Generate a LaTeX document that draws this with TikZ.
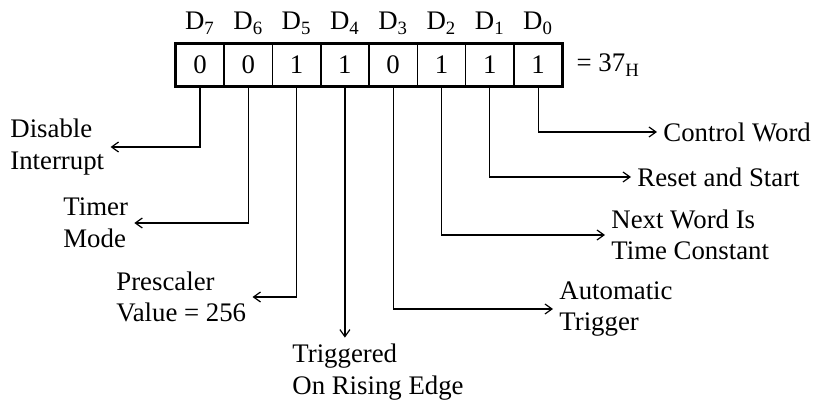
\documentclass[tikz,border=0pt]{standalone}
\usepackage{fontspec}
\setmainfont{Liberation Serif}
\usepackage{tikz}
\usetikzlibrary{arrows.meta, positioning}
\tikzstyle{bitnode}=[rectangle,draw,line width=0.8pt,inner sep=0pt,outer sep=0pt,
  minimum width=24.15pt,minimum height=21.7pt,font=\fontsize{13.4pt}{16pt}\selectfont]
\tikzstyle{bitlabel}=[inner sep=0pt,font=\fontsize{13.4pt}{16pt}\selectfont]
\tikzstyle{labnode}=[inner sep=3pt,align=left,font=\fontsize{13.4pt}{15.8pt}\selectfont]
\tikzstyle{arr}=[-{Straight Barb[length=3.5pt,width=5pt]},line width=0.6pt]

\begin{document}
\begin{tikzpicture}[x=0.5pt,y=-0.5pt,node distance=0pt]
  \useasboundingbox (0,0) rectangle (816,401);
  % control register cells
  \node[bitnode] (b7) at (200,65) {0};
  \node[bitnode,right=of b7] (b6) {0};
  \node[bitnode,right=of b6] (b5) {1};
  \node[bitnode,right=of b5] (b4) {1};
  \node[bitnode,right=of b4] (b3) {0};
  \node[bitnode,right=of b3] (b2) {1};
  \node[bitnode,right=of b2] (b1) {1};
  \node[bitnode,right=of b1] (b0) {1};
  \draw[line width=1.4pt] (b7.north west) rectangle (b0.south east);
  \node[bitlabel,right=7pt of b0] (hex) {= 37\textsubscript{H}};
  % bit names
  \node[bitlabel,above=6.7pt of b7.north,anchor=base] (d7) {D\textsubscript{7}};
  \node[bitlabel,above=6.7pt of b6.north,anchor=base] (d6) {D\textsubscript{6}};
  \node[bitlabel,above=6.7pt of b5.north,anchor=base] (d5) {D\textsubscript{5}};
  \node[bitlabel,above=6.7pt of b4.north,anchor=base] (d4) {D\textsubscript{4}};
  \node[bitlabel,above=6.7pt of b3.north,anchor=base] (d3) {D\textsubscript{3}};
  \node[bitlabel,above=6.7pt of b2.north,anchor=base] (d2) {D\textsubscript{2}};
  \node[bitlabel,above=6.7pt of b1.north,anchor=base] (d1) {D\textsubscript{1}};
  \node[bitlabel,above=6.7pt of b0.north,anchor=base] (d0) {D\textsubscript{0}};
  % meanings
  \node[labnode,anchor=west] (t7) at (4,147) {Disable\\Interrupt};
  \node[labnode,anchor=west] (t6) at (57,223) {Timer\\Mode};
  \node[labnode,anchor=west] (t5) at (110,297) {Prescaler\\Value = 256};
  \node[labnode,anchor=west] (t4) at (286,372) {Triggered\\On Rising Edge};
  \node[labnode,anchor=west] (t3) at (553,309) {Automatic\\Trigger};
  \node[labnode,anchor=west] (t2) at (605,235) {Next Word Is\\Time Constant};
  \node[labnode,anchor=west] (t1) at (631,177) {Reset and Start};
  \node[labnode,anchor=west] (t0) at (657,132) {Control Word};
  \draw[arr] (b7.south) |- (t7);
  \draw[arr] (b6.south) |- (t6);
  \draw[arr] (b5.south) |- (t5);
  \draw[arr] (b4.south) -- (b4.south |- t4.north);
  \draw[arr] (b3.south) |- (t3);
  \draw[arr] (b2.south) |- (t2);
  \draw[arr] (b1.south) |- (t1);
  \draw[arr] (b0.south) |- (t0);
\end{tikzpicture}
\end{document}
